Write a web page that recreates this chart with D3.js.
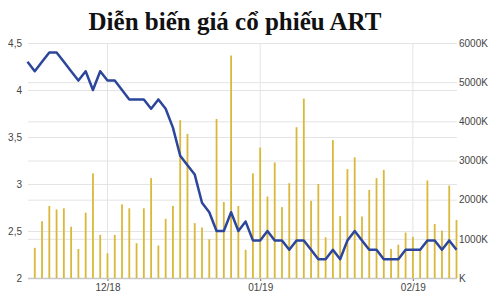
<!DOCTYPE html>
<html>
<head>
<meta charset="utf-8">
<script src="https://cdn.jsdelivr.net/npm/d3@7"></script>
<style>
    body { margin: 0; background: #fff; }
    #chart { width: 500px; height: 300px; }
    .axis text { font-family: "Liberation Sans", Arial, sans-serif; font-size: 10px; fill: #444; }
    .axis .domain { display: none; }
    .grid line { stroke: #e4e4e4; }
</style>
</head>
<body>
<div id="chart"></div>
<script>
// price (nghìn đồng), one value per trading session
const price = [
    4.3, 4.2, 4.3, 4.4, 4.4, 4.3, 4.2, 4.1, 4.2, 4.0,
    4.2, 4.1, 4.1, 4.0, 3.9, 3.9, 3.9, 3.8, 3.9, 3.8,
    3.6, 3.3, 3.2, 3.1, 2.8, 2.7, 2.5, 2.5, 2.7, 2.5,
    2.6, 2.4, 2.4, 2.5, 2.4, 2.4, 2.3, 2.4, 2.4, 2.3,
    2.2, 2.2, 2.3, 2.2, 2.4, 2.5, 2.4, 2.3, 2.3, 2.2,
    2.2, 2.2, 2.3, 2.3, 2.3, 2.4, 2.4, 2.3, 2.4, 2.3
];

// volume in K shares
const volume = [
    0, 770, 1450, 1840, 1750, 1780, 1310, 740, 1670, 2670,
    1100, 630, 1100, 1880, 1780, 890, 1780, 2550, 830, 1510,
    1840, 4030, 3680, 1400, 1290, 990, 4060, 1940, 5680, 1840,
    720, 2670, 3330, 2080, 2950, 1810, 2420, 3850, 4580, 1970,
    2400, 1040, 3520, 1580, 2780, 3080, 1570, 2250, 2550, 2760,
    740, 850, 1160, 1050, 720, 2490, 1380, 1210, 2360, 1480
];

const monthIdx = [11, 32, 53];
const monthLabels = ["12/18", "01/19", "02/19"];
const priceTicks = [2, 2.5, 3, 3.5, 4, 4.5];
const volTicks = [0, 1000, 2000, 3000, 4000, 5000, 6000];

const w = 500, h = 300;
const margin = { top: 43, right: 43, bottom: 22, left: 28 };
const width = w - margin.left - margin.right;
const height = h - margin.top - margin.bottom;

const svg = d3.select("#chart").append("svg")
    .attr("width", w)
    .attr("height", h);

// TITLE
svg.append("text")
    .attr("x", 235)
    .attr("y", 30)
    .attr("text-anchor", "middle")
    .style("font-family", "'Liberation Serif', 'Times New Roman', serif")
    .style("font-weight", "bold")
    .style("font-size", "25px")
    .style("fill", "#111")
    .text("Diễn biến giá cổ phiếu ART");

const g = svg.append("g")
    .attr("transform", "translate(" + margin.left + "," + margin.top + ")");

// SCALES
const x = d3.scalePoint()
    .domain(price.map((d, i) => i))
    .range([-0.5, width - 0.5]);

const yPrice = d3.scaleLinear().domain([2, 4.5]).range([height, 0]);
const yVol = d3.scaleLinear().domain([0, 6000]).range([height, 0]);

// GRID + AXES
g.append("g")
    .attr("class", "grid")
    .selectAll("line")
    .data(monthIdx).enter().append("line")
    .attr("x1", d => x(d)).attr("x2", d => x(d))
    .attr("y1", 0).attr("y2", height);

g.append("g")
    .attr("class", "axis grid")
    .call(d3.axisLeft(yPrice)
        .tickValues(priceTicks)
        .tickSize(-width)
        .tickPadding(6)
        .tickFormat(d => d3.format(".1~f")(d).replace(".", ",")));

g.append("g")
    .attr("class", "axis grid")
    .attr("transform", "translate(" + width + ",0)")
    .call(d3.axisRight(yVol)
        .tickValues(volTicks)
        .tickSize(-width)
        .tickPadding(2)
        .tickFormat(d => d === 0 ? "K" : d + "K"));

const xAxis = g.append("g")
    .attr("class", "axis")
    .attr("transform", "translate(0," + height + ")")
    .call(d3.axisBottom(x)
        .tickValues(monthIdx)
        .tickSize(3)
        .tickPadding(3)
        .tickFormat((d, i) => monthLabels[i]));
xAxis.selectAll(".tick line").attr("stroke", "#666");

g.append("line")
    .attr("x1", 0).attr("x2", width)
    .attr("y1", height + 0.5).attr("y2", height + 0.5)
    .attr("stroke", "#c8c8c8")
    .attr("stroke-width", 1.5);

// BARS
g.append("g").selectAll(".bar")
    .data(volume).enter().append("rect")
    .attr("class", "bar")
    .attr("x", (d, i) => x(i) - 0.9)
    .attr("width", 1.8)
    .attr("y", d => yVol(d))
    .attr("height", d => height - yVol(d))
    .attr("fill", "#d9b83a");

// PRICE LINE
const line = d3.line()
    .x((d, i) => x(i))
    .y(d => yPrice(d));

g.append("path")
    .datum(price)
    .attr("fill", "none")
    .attr("stroke", "#2b469a")
    .attr("stroke-width", 2.5)
    .attr("stroke-linejoin", "round")
    .attr("d", line);
</script>
</body>
</html>
